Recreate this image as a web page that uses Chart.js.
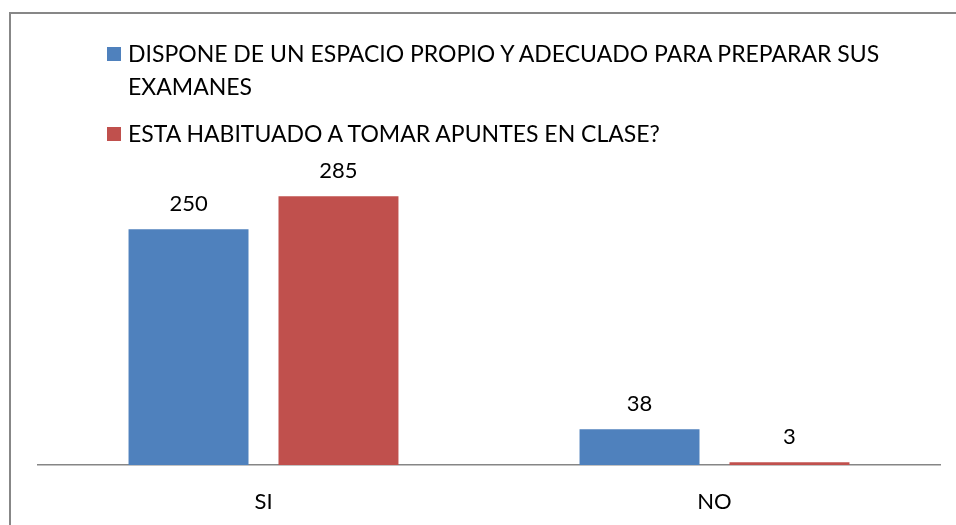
<!DOCTYPE html>
<html>
<head>
  <title>Espacio propio / apuntes</title>
  <script src="https://cdn.jsdelivr.net/npm/chart.js"></script>
  <style>
    html, body { margin: 0; padding: 0; background: #fff; overflow: hidden; }
    body { font-family: Lato, "Liberation Sans", sans-serif; color: #000; }
    #wrap { position: relative; width: 956px; height: 525px; }
    #frame { position: absolute; left: 9px; top: 12px; width: 960px; height: 530px; border: 2px solid #878787; box-sizing: border-box; }
    #chart-box { position: absolute; left: 0; top: 0; width: 956px; height: 525px; }
    #legend { position: absolute; left: 107px; top: 37px; width: 800px; }
    .item { position: relative; padding-left: 21px; font-size: 23px; line-height: 33px; margin-bottom: 14px; }
    .item .sw { position: absolute; left: 0; top: 10px; width: 14px; height: 14px; }
  </style>
</head>
<body>
  <div id="wrap">
    <div id="frame"></div>
    <div id="chart-box"><canvas id="barChart"></canvas></div>
    <div id="legend"></div>
  </div>

  <script>
    const categories = ["SI", "NO"];
    const seriesNames = [
      "DISPONE DE UN ESPACIO PROPIO Y ADECUADO PARA PREPARAR SUS EXAMANES",
      "ESTA HABITUADO A TOMAR APUNTES EN CLASE?"
    ];
    const espacioPropio = [250, 38];
    const tomaApuntes = [285, 3];
    const colors = ["#4F81BD", "#C0504D"];

    // etiquetas de valor encima de cada barra
    const valueLabels = {
      id: 'valueLabels',
      afterDatasetsDraw(chart) {
        const ctx = chart.ctx;
        ctx.save();
        ctx.font = '22px Lato, "Liberation Sans", sans-serif';
        ctx.fillStyle = '#000';
        ctx.textAlign = 'center';
        ctx.textBaseline = 'middle';
        chart.data.datasets.forEach((ds, i) => {
          chart.getDatasetMeta(i).data.forEach((bar, j) => {
            ctx.fillText(ds.data[j], bar.x, bar.y - 25);
          });
        });
        ctx.restore();
      }
    };

    const chart = new Chart(document.getElementById('barChart'), {
      type: 'bar',
      data: {
        labels: categories,
        datasets: [
          { label: seriesNames[0], data: espacioPropio, backgroundColor: colors[0] },
          { label: seriesNames[1], data: tomaApuntes, backgroundColor: colors[1] }
        ]
      },
      options: {
        responsive: true,
        maintainAspectRatio: false,
        animation: false,
        categoryPercentage: 0.665,
        barPercentage: 0.8,
        layout: { padding: { top: 182, left: 38, right: 16, bottom: 0 } },
        plugins: {
          legend: { display: false },
          tooltip: { enabled: false }
        },
        scales: {
          x: {
            grid: { display: false, drawTicks: false },
            border: { display: true, color: '#868686', width: 1.5 },
            ticks: { color: '#000', padding: 24, font: { size: 22, family: 'Lato, "Liberation Sans", sans-serif' } },
            afterFit(scale) { scale.height = 60; }
          },
          y: { display: false, min: 0, max: 300 }
        }
      },
      plugins: [valueLabels]
    });

    // leyenda en HTML para que el texto largo pueda partirse en dos lineas
    const legendEl = document.getElementById('legend');
    chart.data.datasets.forEach(ds => {
      const item = document.createElement('div');
      item.className = 'item';
      const sw = document.createElement('span');
      sw.className = 'sw';
      sw.style.background = ds.backgroundColor;
      item.appendChild(sw);
      item.appendChild(document.createTextNode(ds.label));
      legendEl.appendChild(item);
    });
  </script>
</body>
</html>
